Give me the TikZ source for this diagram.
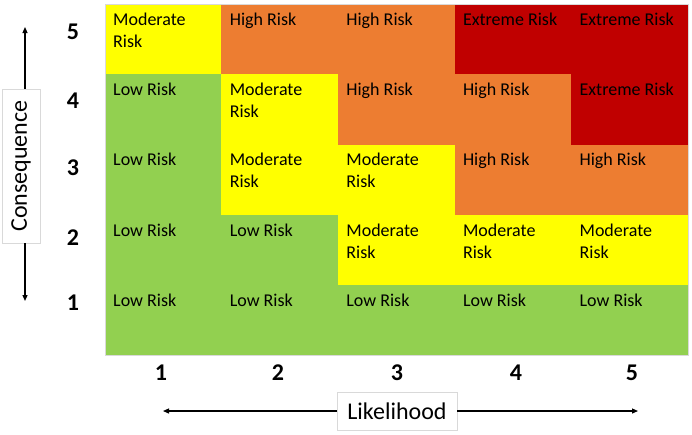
\documentclass[tikz,border=0pt]{standalone}
\usepackage{fontspec}
\setmainfont{Carlito}
\usetikzlibrary{arrows.meta}
\definecolor{rgreen}{HTML}{92D050}
\definecolor{ryellow}{HTML}{FFFF00}
\definecolor{rorange}{HTML}{ED7D31}
\definecolor{rred}{HTML}{C00000}
\definecolor{boxgray}{HTML}{D9D9D9}
\begin{document}
\begin{tikzpicture}[x=1pt,y=-1pt,
  cellfill/.style={inner sep=0pt, outer sep=0pt, minimum width=116.6pt, minimum height=70.1pt, anchor=north west, line width=0.4pt},
  celltext/.style={anchor=north west, inner sep=0pt, align=left, font=\fontsize{18}{22}\selectfont},
  axnum/.style={font=\fontsize{24}{28}\selectfont\bfseries, inner sep=0pt},
  axbox/.style={draw=boxgray, fill=white, line width=0.8pt, font=\fontsize{24}{28}\selectfont, minimum height=38pt, inner sep=0pt},
  axarrow/.style={line width=1.2pt, -{Triangle[length=6pt,width=5pt]}}
]
\useasboundingbox[fill=white] (0,0) rectangle (692,434);
\foreach \r/\c/\col/\txt in {
  5/1/ryellow/{Moderate\\Risk}, 5/2/rorange/{High Risk}, 5/3/rorange/{High Risk}, 5/4/rred/{Extreme Risk}, 5/5/rred/{Extreme Risk},
  4/1/rgreen/{Low Risk}, 4/2/ryellow/{Moderate\\Risk}, 4/3/rorange/{High Risk}, 4/4/rorange/{High Risk}, 4/5/rred/{Extreme Risk},
  3/1/rgreen/{Low Risk}, 3/2/ryellow/{Moderate\\Risk}, 3/3/ryellow/{Moderate\\Risk}, 3/4/rorange/{High Risk}, 3/5/rorange/{High Risk},
  2/1/rgreen/{Low Risk}, 2/2/rgreen/{Low Risk}, 2/3/ryellow/{Moderate\\Risk}, 2/4/ryellow/{Moderate\\Risk}, 2/5/ryellow/{Moderate\\Risk},
  1/1/rgreen/{Low Risk}, 1/2/rgreen/{Low Risk}, 1/3/rgreen/{Low Risk}, 1/4/rgreen/{Low Risk}, 1/5/rgreen/{Low Risk}}
{
  \pgfmathsetmacro\xx{105+(\c-1)*116.6}
  \pgfmathsetmacro\yy{4.5+(5-\r)*70.1}
  \node[cellfill, fill=\col, draw=\col] (cell-\r-\c) at (\xx,\yy) {};
  \node[celltext] (txt-\r-\c) at ([shift={(8,8.5)}]cell-\r-\c.north west) {\txt};
}
\draw[boxgray, line width=0.6pt] (cell-5-1.north west) rectangle (cell-1-5.south east);
% row numbers
\node[axnum] (rn5) at (73,32) {5};
\node[axnum] (rn4) at (73,101) {4};
\node[axnum] (rn3) at (73,168) {3};
\node[axnum] (rn2) at (73,238) {2};
\node[axnum] (rn1) at (73,303) {1};
% column numbers
\node[axnum] (cn1) at (161,373) {1};
\node[axnum] (cn2) at (278,373) {2};
\node[axnum] (cn3) at (397,373) {3};
\node[axnum] (cn4) at (516,373) {4};
\node[axnum] (cn5) at (632,373) {5};
% consequence axis
\node[axbox, rotate=90, minimum width=154pt] (cons) at (21,166) {Consequence};
\coordinate (cTop) at (25,27);
\coordinate (cBot) at (25,301);
\draw[axarrow] (cons.east -| cTop) -- (cTop);
\draw[axarrow] (cons.west -| cBot) -- (cBot);
% likelihood axis
\node[axbox, minimum width=120pt] (lik) at (397,411) {Likelihood};
\coordinate (lLeft) at (163,411);
\coordinate (lRight) at (638,411);
\draw[axarrow] (lik.west) -- (lLeft);
\draw[axarrow] (lik.east) -- (lRight);
\end{tikzpicture}
\end{document}
